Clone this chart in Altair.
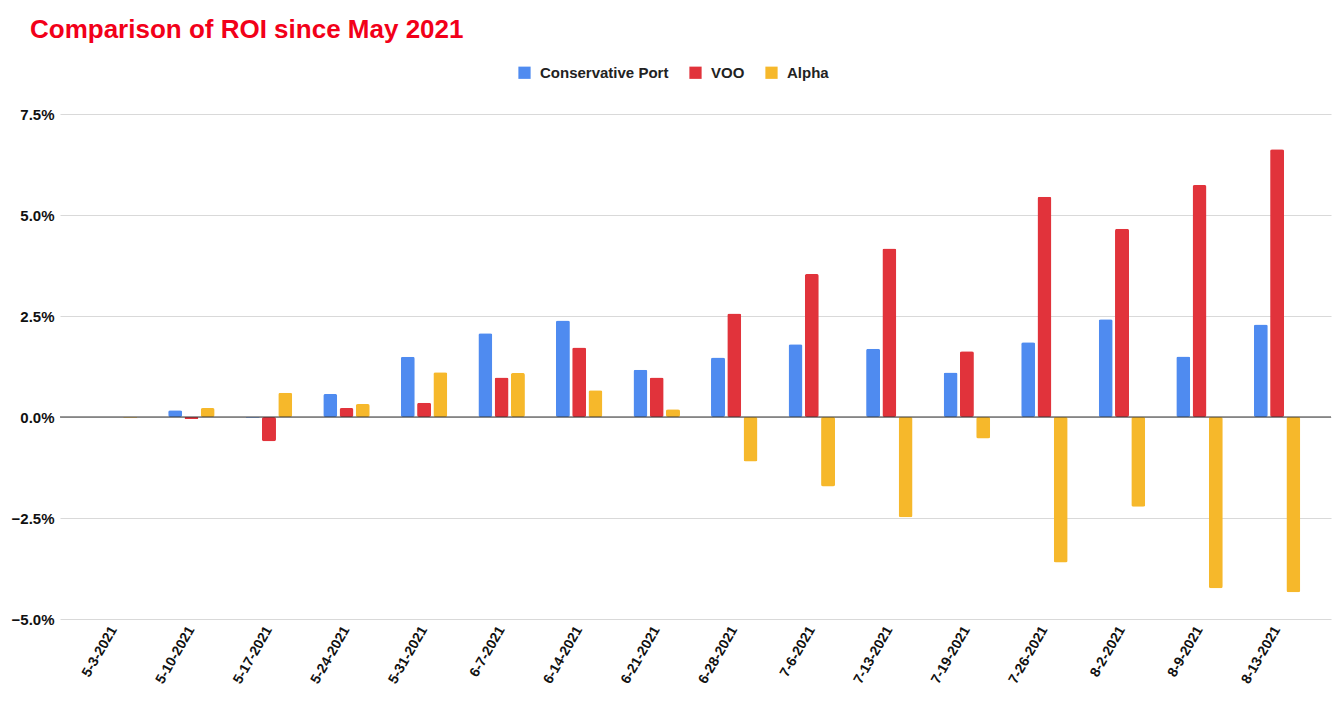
import altair as alt
import pandas as pd

dates = ["5-3-2021", "5-10-2021", "5-17-2021", "5-24-2021", "5-31-2021", "6-7-2021",
         "6-14-2021", "6-21-2021", "6-28-2021", "7-6-2021", "7-13-2021", "7-19-2021",
         "7-26-2021", "8-2-2021", "8-9-2021", "8-13-2021"]
series = ["Conservative Port", "VOO", "Alpha"]
conservative = [0.0, 0.0017, -0.0002, 0.0057, 0.0149, 0.0207, 0.0239, 0.0117,
                0.0147, 0.0180, 0.0169, 0.0110, 0.0185, 0.0242, 0.0150, 0.0229]
voo = [0.0, -0.0005, -0.0060, 0.0022, 0.0035, 0.0098, 0.0172, 0.0098,
       0.0256, 0.0354, 0.0417, 0.0163, 0.0545, 0.0466, 0.0574, 0.0663]
alpha = [-0.0002, 0.0022, 0.0060, 0.0032, 0.0111, 0.0109, 0.0066, 0.0019,
         -0.0110, -0.0172, -0.0248, -0.0053, -0.0360, -0.0222, -0.0424, -0.0434]
colors = ["#4f8bf0", "#e1333b", "#f6b82b"]
y_ticks = [-0.05, -0.025, 0.0, 0.025, 0.05, 0.075]

rows = []
for i, d in enumerate(dates):
    for s, vals in zip(series, [conservative, voo, alpha]):
        rows.append({"date": d, "series": s, "value": vals[i]})
df = pd.DataFrame(rows)

FONT = "Liberation Sans"

bars = alt.Chart(df).mark_bar(cornerRadius=2).encode(
    x=alt.X("date:N", sort=dates,
            scale=alt.Scale(paddingInner=0.40, paddingOuter=0.395),
            axis=alt.Axis(title=None, labelAngle=-60, labelAlign="right",
                          labelBaseline="middle", labelPadding=8, ticks=False,
                          domain=False, grid=False, labelFont=FONT,
                          labelFontSize=14, labelFontWeight="bold",
                          labelColor="#111111")),
    xOffset=alt.XOffset("series:N", sort=series,
                        scale=alt.Scale(paddingInner=0.14, paddingOuter=0)),
    y=alt.Y("value:Q",
            scale=alt.Scale(domain=[-0.05, 0.075], nice=False, zero=False),
            axis=alt.Axis(title=None, values=y_ticks, format=".1%",
                          ticks=False, domain=False, labelPadding=6,
                          labelFont=FONT, labelFontSize=15,
                          labelFontWeight="bold", labelColor="#111111",
                          gridColor="#d9d9d9", gridWidth=1)),
    color=alt.Color("series:N", sort=series,
                    scale=alt.Scale(domain=series, range=colors),
                    legend=alt.Legend(title=None, orient="none", direction="horizontal",
                                      legendX=457, legendY=-49,
                                      symbolType="square", symbolSize=150,
                                      symbolStrokeWidth=0, symbolOpacity=1,
                                      labelFont=FONT, labelFontSize=15,
                                      labelFontWeight="bold", labelColor="#222222",
                                      labelOffset=8, columnPadding=19)),
)

zero = alt.Chart(pd.DataFrame({"z": [0.0]})).mark_rule(color="#333333", strokeWidth=1).encode(
    y=alt.Y("z:Q")
)

chart = alt.layer(bars, zero).properties(
    width=1271, height=505,
    view=alt.ViewBackground(stroke="transparent", strokeWidth=0),
    title=alt.TitleParams("Comparison of ROI since May 2021", anchor="start",
                          frame="group", dx=-30, offset=22, font=FONT,
                          fontSize=26, fontWeight="bold", color="#f20019"),
    autosize=alt.AutoSizeParams(type="none"),
    padding={"left": 60, "top": 114, "right": 10, "bottom": 92},
).configure_view(stroke="transparent", strokeWidth=0).configure_axis(
    domain=False
).configure(background="white")

chart.save("out.html", embed_options={"renderer": "svg", "actions": False})
